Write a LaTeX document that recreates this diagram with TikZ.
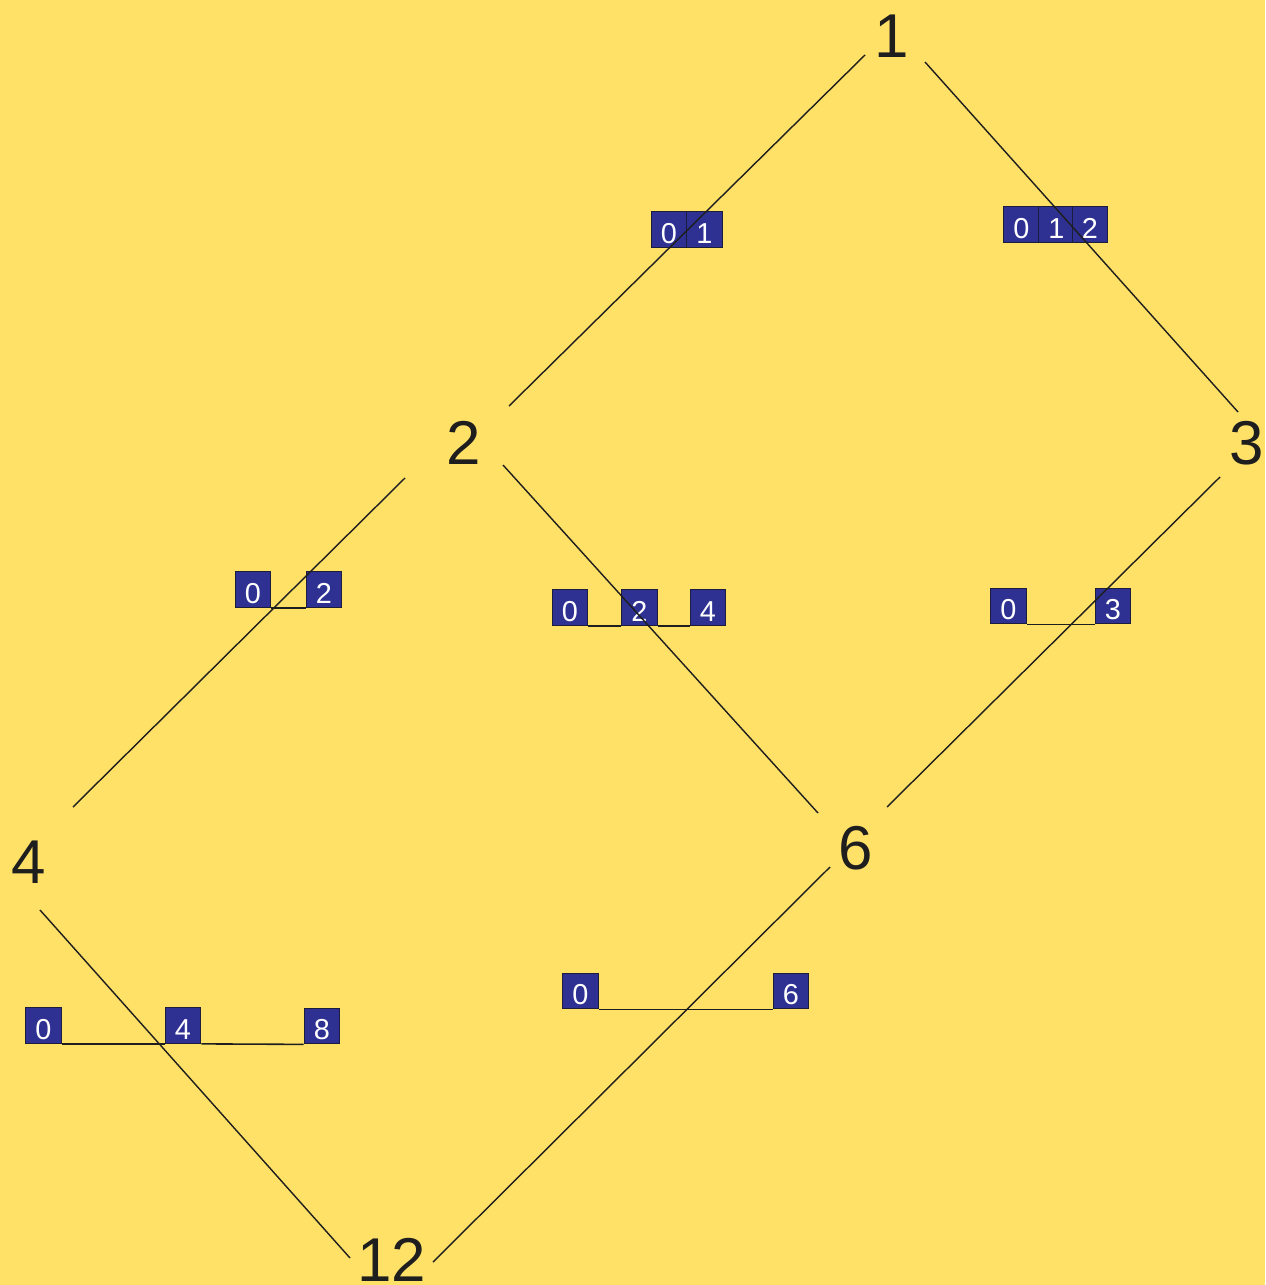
\documentclass[tikz,border=0pt]{standalone}
\usepackage{fontspec}
\setmainfont{Liberation Sans}
\usetikzlibrary{calc}
\definecolor{bgyellow}{RGB}{255,225,104}
\definecolor{cellblue}{RGB}{46,49,146}
\definecolor{celledge}{RGB}{28,28,60}
\definecolor{inkline}{RGB}{30,30,30}
\newcommand{\celltxt}[1]{\raisebox{-0.135cm}[0pt][0pt]{#1}}
\tikzset{
  biglabel/.style={inner sep=0pt, text=inkline, font=\fontsize{17.6}{20}\selectfont},
  cell/.style={draw=celledge, line width=0.35pt, fill=cellblue, text=white, inner sep=0pt,
    minimum width=0.355cm, minimum height=0.355cm, font=\fontsize{8.2}{9}\selectfont},
  edge/.style={draw=inkline, line width=0.4pt},
  numline/.style={draw=inkline, line width=0.45pt}
}
\begin{document}
\begin{tikzpicture}[x=0.01cm,y=-0.01cm]
  \fill[bgyellow] (0,0) rectangle (1265,1285);
  \useasboundingbox (0,0) rectangle (1265,1285);

  % lattice labels
  \node[biglabel] (n1) at (892,36) {1};
  \node[biglabel] (n2) at (464,443) {2};
  \node[biglabel] (n3) at (1247,443) {3};
  \node[biglabel] (n4) at (29,862) {4};
  \node[biglabel] (n6) at (856,848) {6};
  \node[biglabel] (n12) at (392,1260) {12};

  % cells on edge 1-2
  \node[cell] (a0) at (669,229.5) {\celltxt{0}};
  \node[cell] (a1) at (704.5,229.5) {\celltxt{1}};
  % cells on edge 1-3
  \node[cell] (b0) at (1021.5,224.5) {\celltxt{0}};
  \node[cell] (b1) at (1056.5,224.5) {\celltxt{1}};
  \node[cell] (b2) at (1090,224.5) {\celltxt{2}};
  % cells on edge 2-4
  \node[cell] (c0) at (253,589.5) {\celltxt{0}};
  \node[cell] (c2) at (324,589.5) {\celltxt{2}};
  \draw[numline] (c0.south east) -- (c2.south west);
  % cells on edge 2-6
  \node[cell] (d0) at (570,607.5) {\celltxt{0}};
  \node[cell] (d2) at (639.5,607.5) {\celltxt{2}};
  \node[cell] (d4) at (708,607.5) {\celltxt{4}};
  \draw[numline] (d0.south east) -- (d2.south west);
  \draw[numline] (d2.south east) -- (d4.south west);
  % cells on edge 3-6
  \node[cell] (e0) at (1008.5,606) {\celltxt{0}};
  \node[cell] (e3) at (1113,606) {\celltxt{3}};
  \draw[numline] (e0.south east) -- (e3.south west);
  % cells on edge 4-12
  \node[cell] (f0) at (43.5,1025.5) {\celltxt{0}};
  \node[cell] (f4) at (183,1025.5) {\celltxt{4}};
  \node[cell] (f8) at (322,1026) {\celltxt{8}};
  \draw[numline] (f0.south east) -- (f4.south west);
  \draw[numline] (f4.south east) -- (f8.south west);
  % cells on edge 6-12
  \node[cell] (g0) at (580.5,991) {\celltxt{0}};
  \node[cell] (g6) at (791,991) {\celltxt{6}};
  \draw[numline] (g0.south east) -- (g6.south west);

  % edges (drawn over the cells)
  \draw[edge] ($(n1)+(-27,19)$) -- ($(n2)+(45,-37)$);
  \draw[edge] ($(n1)+(33,26)$) -- ($(n3)+(-9,-31)$);
  \draw[edge] ($(n2)+(-59,35)$) -- ($(n4)+(44,-55)$);
  \draw[edge] ($(n2)+(39,22)$) -- ($(n6)+(-38,-35)$);
  \draw[edge] ($(n3)+(-27,34)$) -- ($(n6)+(31,-41)$);
  \draw[edge] ($(n4)+(11,48)$) -- ($(n12)+(-42,-2)$);
  \draw[edge] ($(n6)+(-26,19)$) -- ($(n12)+(41,2)$);
\end{tikzpicture}
\end{document}
